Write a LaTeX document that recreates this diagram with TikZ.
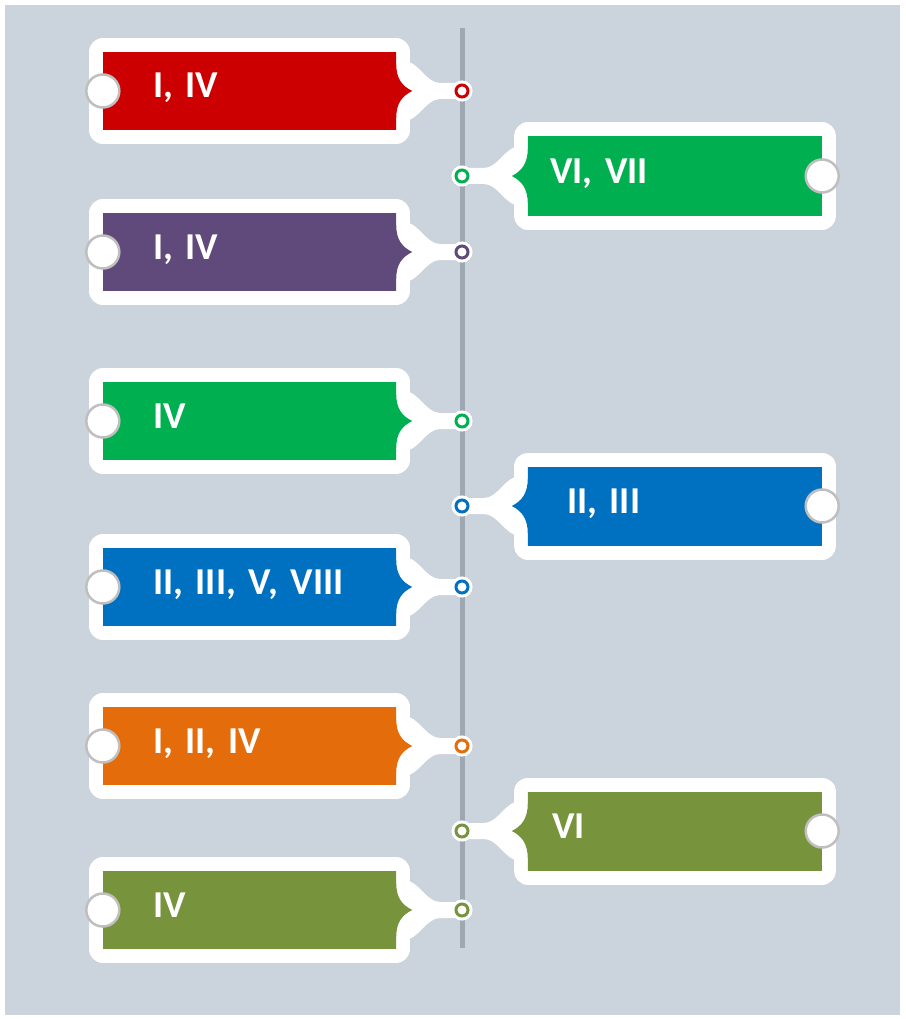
\documentclass[tikz,border=0pt]{standalone}
\usepackage{fontspec}
\setmainfont{Carlito}
\usetikzlibrary{positioning}

\definecolor{bgcol}{HTML}{CBD3DD}
\definecolor{spinecol}{HTML}{9EA8B3}
\definecolor{redbox}{HTML}{CC0000}
\definecolor{greenbox}{HTML}{00B050}
\definecolor{purplebox}{HTML}{604A7B}
\definecolor{bluebox}{HTML}{0070C0}
\definecolor{orangebox}{HTML}{E46C0A}
\definecolor{olivebox}{HTML}{77933C}

\pgfdeclarelayer{back}
\pgfsetlayers{back,main}

\tikzstyle{lbox} = [rectangle, inner xsep=50pt, inner ysep=0pt, text width=193pt, minimum height=78pt, align=left, text=white, text height=24pt, text depth=10pt, font=\fontsize{38}{40}\selectfont\bfseries, preaction={draw=white, line width=28pt, line join=round}]
\tikzstyle{rbox} = [lbox, inner xsep=22pt, text width=250pt, minimum height=79pt]
\tikzstyle{knob} = [circle, fill=white, draw=black!25, line width=2.5pt, minimum size=33pt, inner sep=0pt]
\tikzstyle{dot} = [circle, fill=white, line width=3pt, minimum size=12pt, inner sep=0pt, preaction={draw=white, line width=9pt}]
\tikzstyle{neck} = [fill=white]
\tikzstyle{spine} = [draw=spinecol, line width=5pt]

\begin{document}
\begin{tikzpicture}[x=1pt, y=1pt]
\useasboundingbox (0,0) rectangle (905,-1019);

% left column
\node [lbox, fill=redbox] (b1) at (249.5,-91) {I, IV};
\node [lbox, fill=purplebox] (b2) at (249.5,-252) {I, IV};
\node [lbox, fill=greenbox] (b3) at (249.5,-421) {IV};
\node [lbox, fill=bluebox] (b4) at (249.5,-587) {II, III, V, VIII};
\node [lbox, fill=orangebox] (b5) at (249.5,-746) {I, II, IV};
\node [lbox, fill=olivebox] (b6) at (249.5,-910) {IV};

% right column
\node [rbox, fill=greenbox] (r1) at (675,-176) {VI, VII};
\node [rbox, fill=bluebox] (r2) at (675,-506) {\hspace{17pt}II, III};
\node [rbox, fill=olivebox] (r3) at (675,-831) {\hspace{2pt}VI};

% pointed ends
\foreach \n/\c in {b1/redbox, b2/purplebox, b3/greenbox, b4/bluebox, b5/orangebox, b6/olivebox}
  \fill [\c] (\n.north east) -- ++(0,-12) .. controls +(0,-15) and +(-10,5) .. ([xshift=16]\n.east) .. controls +(-10,-5) and +(0,15) .. ([yshift=12]\n.south east) -- (\n.south east) -- cycle;
\foreach \n/\c in {r1/greenbox, r2/bluebox, r3/olivebox}
  \fill [\c] (\n.north west) -- ++(0,-12) .. controls +(0,-15) and +(10,5) .. ([xshift=-16]\n.west) .. controls +(10,-5) and +(0,15) .. ([yshift=12]\n.south west) -- (\n.south west) -- cycle;

% knobs
\node [knob] (k1) at (b1.west) {};
\node [knob] (k2) at (b2.west) {};
\node [knob] (k3) at (b3.west) {};
\node [knob] (k4) at (b4.west) {};
\node [knob] (k5) at (b5.west) {};
\node [knob] (k6) at (b6.west) {};
\node [knob] (m1) at (r1.east) {};
\node [knob] (m2) at (r2.east) {};
\node [knob] (m3) at (r3.east) {};

% dots on the line
\node [dot, draw=redbox, right of=b1, node distance=212.5pt] (d1) {};
\node [dot, draw=purplebox, right of=b2, node distance=212.5pt] (d2) {};
\node [dot, draw=greenbox, right of=b3, node distance=212.5pt] (d3) {};
\node [dot, draw=bluebox, right of=b4, node distance=212.5pt] (d4) {};
\node [dot, draw=orangebox, right of=b5, node distance=212.5pt] (d5) {};
\node [dot, draw=olivebox, right of=b6, node distance=212.5pt] (d6) {};
\node [dot, draw=greenbox, left of=r1, node distance=213pt] (e1) {};
\node [dot, draw=bluebox, left of=r2, node distance=213pt] (e2) {};
\node [dot, draw=olivebox, left of=r3, node distance=213pt] (e3) {};

\begin{pgfonlayer}{back}
\fill [white] (0,0) rectangle (905,-1019);
\fill [bgcol] (5,-5) rectangle (900,-1015);
\coordinate (spinetop) at (462,-28);
\coordinate (spinebot) at (462,-948);
\draw [spine] (spinetop) -- (spinebot);
\foreach \n in {1,...,6}
  \fill [neck] ([shift={(8,30)}]b\n.east) .. controls +(14,0) and +(-14,0) .. ([shift={(-22,8)}]d\n.center) -- ([yshift=8]d\n.center) -- ([yshift=-8]d\n.center) -- ([shift={(-22,-8)}]d\n.center) .. controls +(-14,0) and +(14,0) .. ([shift={(8,-30)}]b\n.east) -- cycle;
\foreach \n in {1,2,3}
  \fill [neck] ([shift={(-8,30)}]r\n.west) .. controls +(-14,0) and +(14,0) .. ([shift={(22,8)}]e\n.center) -- ([yshift=8]e\n.center) -- ([yshift=-8]e\n.center) -- ([shift={(22,-8)}]e\n.center) .. controls +(14,0) and +(-14,0) .. ([shift={(-8,-30)}]r\n.west) -- cycle;
\end{pgfonlayer}

\end{tikzpicture}
\end{document}
